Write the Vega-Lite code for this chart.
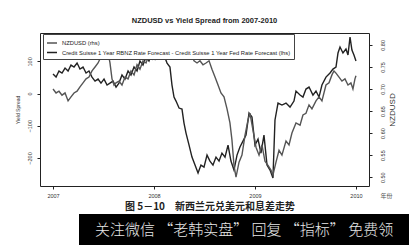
{
  "$schema": "https://vega.github.io/schema/vega-lite/v6.json",
  "background": "white",
  "padding": {"left": 14, "top": 16, "right": 0, "bottom": 0},
  "config": {"font": "Liberation Sans", "view": {"stroke": null}, "concat": {"spacing": 0}},
  "datasets": {
    "spread": [
      {"t":2007.000,"v":60.6},{"t":2007.030,"v":51.2},{"t":2007.059,"v":69.9},{"t":2007.089,"v":63.7},{"t":2007.119,"v":79.2},{"t":2007.149,"v":69.9},{"t":2007.178,"v":88.5},{"t":2007.208,"v":82.3},{"t":2007.238,"v":94.7},{"t":2007.267,"v":76.1},{"t":2007.297,"v":82.3},{"t":2007.327,"v":63.7},{"t":2007.356,"v":69.9},{"t":2007.386,"v":51.2},{"t":2007.416,"v":38.8},{"t":2007.446,"v":45.0},{"t":2007.475,"v":32.6},{"t":2007.505,"v":45.0},{"t":2007.535,"v":26.4},{"t":2007.564,"v":32.6},{"t":2007.594,"v":38.8},{"t":2007.624,"v":20.2},{"t":2007.653,"v":32.6},{"t":2007.683,"v":57.5},{"t":2007.713,"v":45.0},{"t":2007.743,"v":69.9},{"t":2007.772,"v":57.5},{"t":2007.802,"v":82.3},{"t":2007.832,"v":69.9},{"t":2007.861,"v":100.9},{"t":2007.891,"v":88.5},{"t":2007.921,"v":113.4},{"t":2007.950,"v":100.9},{"t":2007.980,"v":125.8},{"t":2008.010,"v":107.1},{"t":2008.040,"v":132.0},{"t":2008.069,"v":113.4},{"t":2008.099,"v":119.6},{"t":2008.129,"v":94.7},{"t":2008.158,"v":82.3},{"t":2008.178,"v":26.4},{"t":2008.198,"v":-10.9},{"t":2008.218,"v":-23.3},{"t":2008.248,"v":-45.0},{"t":2008.277,"v":-48.1},{"t":2008.297,"v":-91.6},{"t":2008.317,"v":-122.7},{"t":2008.347,"v":-160.0},{"t":2008.376,"v":-197.2},{"t":2008.406,"v":-222.0},{"t":2008.436,"v":-246.9},{"t":2008.465,"v":-222.0},{"t":2008.495,"v":-228.3},{"t":2008.525,"v":-191.0},{"t":2008.554,"v":-209.6},{"t":2008.584,"v":-222.0},{"t":2008.614,"v":-197.2},{"t":2008.644,"v":-209.6},{"t":2008.673,"v":-184.8},{"t":2008.703,"v":-197.2},{"t":2008.733,"v":-160.0},{"t":2008.762,"v":-209.6},{"t":2008.792,"v":-237.6},{"t":2008.822,"v":-191.0},{"t":2008.851,"v":-166.1},{"t":2008.881,"v":-147.5},{"t":2008.911,"v":-128.9},{"t":2008.941,"v":-60.6},{"t":2008.970,"v":-73.0},{"t":2009.000,"v":-160.0},{"t":2009.030,"v":-141.3},{"t":2009.059,"v":-184.8},{"t":2009.089,"v":-128.9},{"t":2009.119,"v":-222.0},{"t":2009.149,"v":-237.6},{"t":2009.178,"v":-262.4},{"t":2009.198,"v":-82.0},{"t":2009.228,"v":-29.5},{"t":2009.267,"v":-35.7},{"t":2009.307,"v":-29.5},{"t":2009.347,"v":-41.9},{"t":2009.386,"v":-23.3},{"t":2009.406,"v":7.8},{"t":2009.446,"v":-4.7},{"t":2009.475,"v":-10.9},{"t":2009.505,"v":14.0},{"t":2009.535,"v":20.2},{"t":2009.574,"v":-4.7},{"t":2009.604,"v":7.8},{"t":2009.634,"v":-10.9},{"t":2009.663,"v":26.4},{"t":2009.703,"v":51.2},{"t":2009.743,"v":63.7},{"t":2009.772,"v":76.1},{"t":2009.802,"v":82.3},{"t":2009.822,"v":125.8},{"t":2009.842,"v":144.4},{"t":2009.871,"v":125.8},{"t":2009.901,"v":138.2},{"t":2009.921,"v":119.6},{"t":2009.941,"v":175.5},{"t":2009.960,"v":135.1},{"t":2009.980,"v":119.6},{"t":2010.000,"v":100.9}
    ],
    "nzd": [
      {"t":2007.000,"v":0.700},{"t":2007.030,"v":0.691},{"t":2007.059,"v":0.695},{"t":2007.089,"v":0.686},{"t":2007.119,"v":0.691},{"t":2007.149,"v":0.673},{"t":2007.178,"v":0.682},{"t":2007.208,"v":0.691},{"t":2007.238,"v":0.695},{"t":2007.267,"v":0.705},{"t":2007.297,"v":0.714},{"t":2007.327,"v":0.723},{"t":2007.356,"v":0.727},{"t":2007.386,"v":0.741},{"t":2007.416,"v":0.750},{"t":2007.446,"v":0.759},{"t":2007.475,"v":0.773},{"t":2007.495,"v":0.782},{"t":2007.505,"v":0.818},{"t":2007.525,"v":0.791},{"t":2007.545,"v":0.782},{"t":2007.564,"v":0.759},{"t":2007.584,"v":0.723},{"t":2007.604,"v":0.709},{"t":2007.624,"v":0.714},{"t":2007.653,"v":0.718},{"t":2007.683,"v":0.709},{"t":2007.713,"v":0.727},{"t":2007.743,"v":0.723},{"t":2007.772,"v":0.741},{"t":2007.802,"v":0.732},{"t":2007.832,"v":0.755},{"t":2007.861,"v":0.745},{"t":2007.891,"v":0.764},{"t":2007.921,"v":0.759},{"t":2007.950,"v":0.777},{"t":2007.980,"v":0.768},{"t":2008.010,"v":0.786},{"t":2008.040,"v":0.777},{"t":2008.069,"v":0.791},{"t":2008.099,"v":0.782},{"t":2008.129,"v":0.786},{"t":2008.158,"v":0.777},{"t":2008.188,"v":0.786},{"t":2008.218,"v":0.782},{"t":2008.248,"v":0.791},{"t":2008.277,"v":0.777},{"t":2008.307,"v":0.786},{"t":2008.337,"v":0.773},{"t":2008.366,"v":0.782},{"t":2008.396,"v":0.764},{"t":2008.426,"v":0.759},{"t":2008.455,"v":0.764},{"t":2008.485,"v":0.755},{"t":2008.515,"v":0.759},{"t":2008.545,"v":0.764},{"t":2008.574,"v":0.745},{"t":2008.604,"v":0.727},{"t":2008.634,"v":0.709},{"t":2008.663,"v":0.691},{"t":2008.693,"v":0.682},{"t":2008.723,"v":0.655},{"t":2008.752,"v":0.623},{"t":2008.772,"v":0.584},{"t":2008.792,"v":0.527},{"t":2008.812,"v":0.500},{"t":2008.842,"v":0.534},{"t":2008.871,"v":0.550},{"t":2008.901,"v":0.595},{"t":2008.931,"v":0.630},{"t":2008.950,"v":0.645},{"t":2008.980,"v":0.607},{"t":2009.010,"v":0.568},{"t":2009.040,"v":0.550},{"t":2009.069,"v":0.573},{"t":2009.099,"v":0.536},{"t":2009.129,"v":0.527},{"t":2009.158,"v":0.516},{"t":2009.178,"v":0.505},{"t":2009.208,"v":0.534},{"t":2009.238,"v":0.561},{"t":2009.267,"v":0.550},{"t":2009.307,"v":0.582},{"t":2009.337,"v":0.573},{"t":2009.366,"v":0.600},{"t":2009.406,"v":0.623},{"t":2009.446,"v":0.618},{"t":2009.475,"v":0.641},{"t":2009.505,"v":0.645},{"t":2009.535,"v":0.664},{"t":2009.564,"v":0.655},{"t":2009.604,"v":0.673},{"t":2009.634,"v":0.682},{"t":2009.663,"v":0.673},{"t":2009.703,"v":0.709},{"t":2009.733,"v":0.714},{"t":2009.762,"v":0.732},{"t":2009.782,"v":0.741},{"t":2009.802,"v":0.736},{"t":2009.832,"v":0.727},{"t":2009.861,"v":0.718},{"t":2009.891,"v":0.723},{"t":2009.921,"v":0.709},{"t":2009.950,"v":0.714},{"t":2009.970,"v":0.700},{"t":2009.990,"v":0.723},{"t":2010.000,"v":0.730}
    ],
    "caption": [{"s": "关注微信 “老韩实盘” 回复 “指标” 免费领"}],
    "blank": [{"s": ""}]
  },
  "spacing": 3,
  "vconcat": [
    {
      "title": {"text": "NZDUSD vs Yield Spread from 2007-2010", "fontSize": 7.5, "fontWeight": "bold", "anchor": "middle", "offset": 9, "color": "#222"},
      "width": 329,
      "height": 153,
      "view": {"stroke": "#222", "strokeWidth": 1},
      "layer": [
        {
          "data": {"name": "spread"},
          "mark": {"type": "line", "strokeWidth": 1.4, "clip": true},
          "encoding": {
            "x": {"field": "t", "type": "quantitative",
              "scale": {"domain": [2006.871, 2010.129], "nice": false, "zero": false},
              "axis": {"values": [2007, 2008, 2009, 2010], "format": "d", "grid": false, "domain": false,
                "tickColor": "#222", "tickSize": 3, "labelFontSize": 5.5, "labelColor": "#333", "labelPadding": 4,
                "title": "年份", "titleFont": "Noto Sans CJK SC", "titleFontSize": 6, "titleFontWeight": "normal", "titleColor": "#555",
                "titleX": 346, "titleY": 9, "titleBaseline": "middle", "titleAlign": "center"}},
            "y": {"field": "v", "type": "quantitative",
              "scale": {"domain": [-287, 188], "nice": false, "zero": false},
              "axis": {"orient": "left", "values": [-200, -100, 0, 100], "grid": false, "domain": false,
                "tickColor": "#222", "tickSize": 3, "labelFontSize": 5.5, "labelColor": "#333", "labelAngle": -90, "labelPadding": 5,
                "title": "Yield Spread", "titleFontSize": 5, "titleFontWeight": "normal", "titleColor": "#333", "titlePadding": 7}},
            "color": {"datum": "Credit Suisse 1 Year RBNZ Rate Forecast - Credit Suisse 1 Year Fed Rate Forecast (lhs)",
              "scale": {"domain": ["NZDUSD (rhs)", "Credit Suisse 1 Year RBNZ Rate Forecast - Credit Suisse 1 Year Fed Rate Forecast (lhs)"], "range": ["#555555", "#222222"]},
              "legend": {"orient": "none", "legendX": 3, "legendY": 1, "title": null, "symbolType": "stroke", "symbolSize": 100,
                "symbolStrokeWidth": 1.5, "labelFontSize": 5.8, "labelColor": "#222", "labelLimit": 0, "labelOffset": 4,
                "fillColor": "white", "strokeColor": "#444", "padding": 3, "rowPadding": 0.5}}
          }
        },
        {
          "data": {"name": "nzd"},
          "mark": {"type": "line", "strokeWidth": 1.4, "clip": true},
          "encoding": {
            "x": {"field": "t", "type": "quantitative"},
            "y": {"field": "v", "type": "quantitative",
              "scale": {"domain": [0.48, 0.827], "nice": false, "zero": false},
              "axis": {"orient": "right", "values": [0.5, 0.55, 0.6, 0.65, 0.7, 0.75, 0.8], "format": ".2f", "grid": false, "domain": false,
                "tickColor": "#222", "tickSize": 3, "labelFontSize": 5.5, "labelColor": "#333", "labelAngle": -90, "labelPadding": 8,
                "title": "NZDUSD", "titleFontSize": 8, "titleFontWeight": "normal", "titleColor": "#333", "titleAngle": -90, "titleBaseline": "top", "titlePadding": 3}},
            "color": {"datum": "NZDUSD (rhs)"}
          }
        }
      ],
      "resolve": {"scale": {"y": "independent"}}
    },
    {
      "spacing": 0,
      "hconcat": [
        {"width": 39, "height": 31, "data": {"name": "blank"}, "mark": {"type": "text"}, "encoding": {"text": {"field": "s"}}},
        {"width": 330, "height": 31, "view": {"fill": "black", "stroke": null},
          "title": {"text": "图 5－10　新西兰元兑美元和息差走势", "font": "Noto Sans CJK SC", "fontSize": 10, "fontWeight": "bold", "color": "#222", "anchor": "middle", "dx": -34, "offset": 2},
          "data": {"name": "caption"},
          "mark": {"type": "text", "font": "Noto Sans CJK SC", "fontSize": 15, "fontWeight": 300, "color": "#e8e8e8"},
          "encoding": {"text": {"field": "s"}}}
      ]
    }
  ]
}
